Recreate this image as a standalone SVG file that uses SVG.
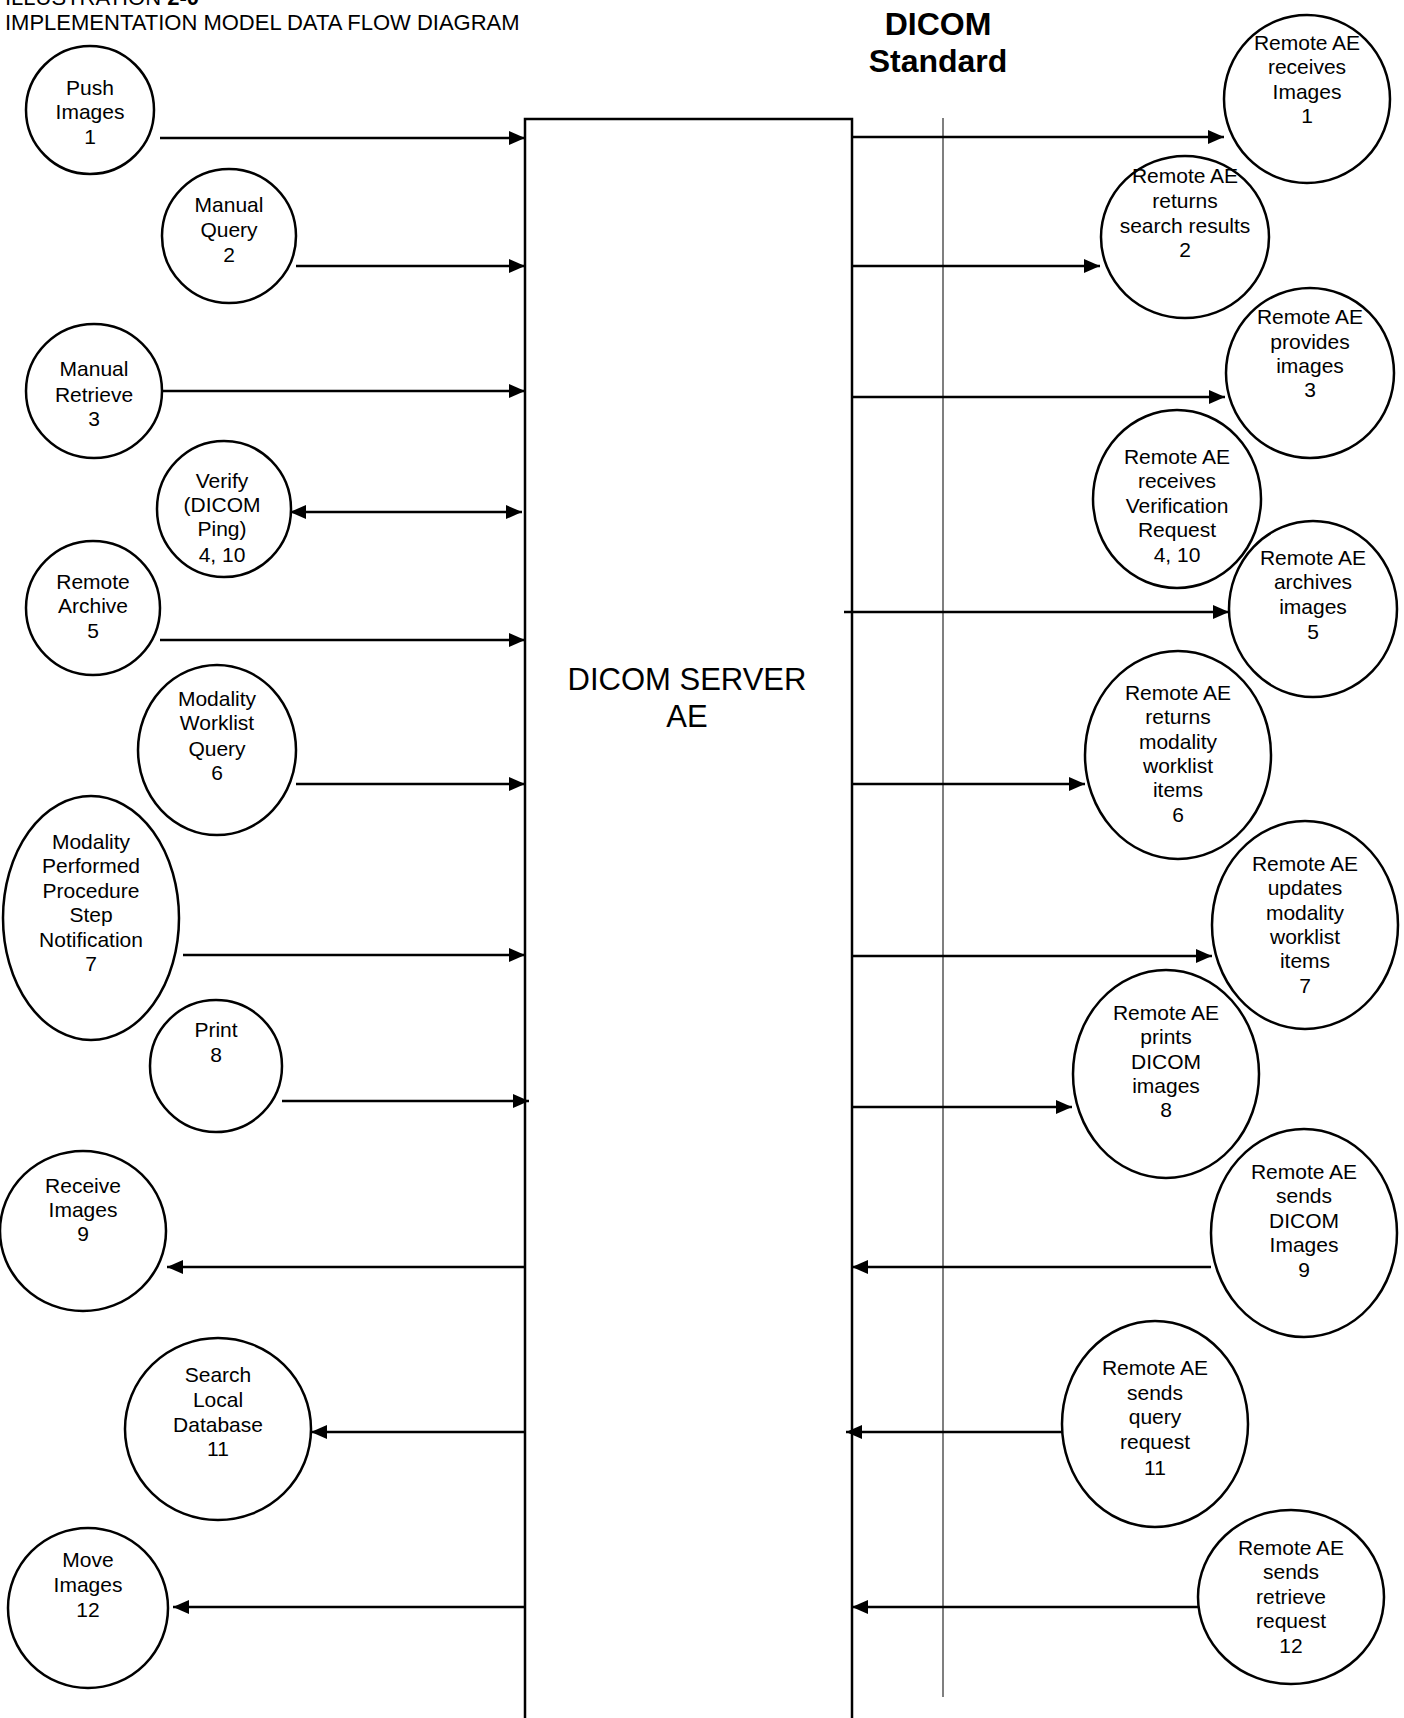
<svg xmlns="http://www.w3.org/2000/svg" width="1404" height="1718" viewBox="0 0 1404 1718">
<style>
text{font-family:"Liberation Sans",Arial,sans-serif;fill:#000}
.lbl{font-size:21px;text-anchor:middle}
.nd{fill:#fff;stroke:#000;stroke-width:2.5}
.cn{stroke:#000;stroke-width:2.5;fill:none}
</style>
<defs>
<marker id="ah" viewBox="0 0 16 14" refX="16" refY="7" markerWidth="16" markerHeight="14" markerUnits="userSpaceOnUse" orient="auto-start-reverse"><path d="M0,0 L16,7 L0,14 z" fill="#000"/></marker>
</defs>
<rect width="1404" height="1718" fill="#fff"/>
<g id="title">
<text x="5" y="5" font-size="22">ILLUSTRATION <tspan font-weight="bold">2-0</tspan></text>
<text x="5" y="30" font-size="22">IMPLEMENTATION MODEL DATA FLOW DIAGRAM</text>
<text x="938" y="35" font-size="32" font-weight="bold" text-anchor="middle">DICOM</text>
<text x="938" y="72" font-size="32" font-weight="bold" text-anchor="middle">Standard</text>
</g>
<line x1="943" y1="118" x2="943" y2="1697" stroke="#555" stroke-width="1.5"/>
<g id="server">
<rect x="525" y="119" width="327" height="1620" fill="#fff" stroke="#000" stroke-width="2.5"/>
<text x="687" y="690" font-size="31" text-anchor="middle">DICOM SERVER</text>
<text x="687" y="727" font-size="31" text-anchor="middle">AE</text>
</g>
<g id="connectors">
<line class="cn" x1="160" y1="138" x2="525" y2="138" marker-end="url(#ah)"/>
<line class="cn" x1="296" y1="266" x2="525" y2="266" marker-end="url(#ah)"/>
<line class="cn" x1="162" y1="391" x2="525" y2="391" marker-end="url(#ah)"/>
<line class="cn" x1="290" y1="512" x2="522" y2="512" marker-start="url(#ah)" marker-end="url(#ah)"/>
<line class="cn" x1="160" y1="640" x2="525" y2="640" marker-end="url(#ah)"/>
<line class="cn" x1="296" y1="784" x2="525" y2="784" marker-end="url(#ah)"/>
<line class="cn" x1="183" y1="955" x2="525" y2="955" marker-end="url(#ah)"/>
<line class="cn" x1="282" y1="1101" x2="529" y2="1101" marker-end="url(#ah)"/>
<line class="cn" x1="525" y1="1267" x2="167" y2="1267" marker-end="url(#ah)"/>
<line class="cn" x1="525" y1="1432" x2="311" y2="1432" marker-end="url(#ah)"/>
<line class="cn" x1="525" y1="1607" x2="173" y2="1607" marker-end="url(#ah)"/>
<line class="cn" x1="852" y1="137" x2="1224" y2="137" marker-end="url(#ah)"/>
<line class="cn" x1="852" y1="266" x2="1100" y2="266" marker-end="url(#ah)"/>
<line class="cn" x1="852" y1="397" x2="1225" y2="397" marker-end="url(#ah)"/>
<line class="cn" x1="844" y1="612" x2="1229" y2="612" marker-end="url(#ah)"/>
<line class="cn" x1="852" y1="784" x2="1085" y2="784" marker-end="url(#ah)"/>
<line class="cn" x1="852" y1="956" x2="1212" y2="956" marker-end="url(#ah)"/>
<line class="cn" x1="852" y1="1107" x2="1072" y2="1107" marker-end="url(#ah)"/>
<line class="cn" x1="1211" y1="1267" x2="852" y2="1267" marker-end="url(#ah)"/>
<line class="cn" x1="1062" y1="1432" x2="846" y2="1432" marker-end="url(#ah)"/>
<line class="cn" x1="1198" y1="1607" x2="852" y2="1607" marker-end="url(#ah)"/>
</g>
<g id="push-images"><ellipse class="nd" cx="90" cy="110" rx="64" ry="64"/><text class="lbl"><tspan x="90" y="95">Push</tspan><tspan x="90" y="119">Images</tspan><tspan x="90" y="144">1</tspan></text></g>
<g id="manual-query"><ellipse class="nd" cx="229" cy="236" rx="67" ry="67"/><text class="lbl"><tspan x="229" y="212">Manual</tspan><tspan x="229" y="237">Query</tspan><tspan x="229" y="262">2</tspan></text></g>
<g id="manual-retrieve"><ellipse class="nd" cx="94" cy="391" rx="68" ry="67"/><text class="lbl"><tspan x="94" y="376">Manual</tspan><tspan x="94" y="402">Retrieve</tspan><tspan x="94" y="426">3</tspan></text></g>
<g id="verify"><ellipse class="nd" cx="224" cy="509" rx="67" ry="68"/><text class="lbl"><tspan x="222" y="488">Verify</tspan><tspan x="222" y="512">(DICOM</tspan><tspan x="222" y="536">Ping)</tspan><tspan x="222" y="562">4, 10</tspan></text></g>
<g id="remote-archive"><ellipse class="nd" cx="93" cy="608" rx="67" ry="67"/><text class="lbl"><tspan x="93" y="589">Remote</tspan><tspan x="93" y="613">Archive</tspan><tspan x="93" y="638">5</tspan></text></g>
<g id="mwl-query"><ellipse class="nd" cx="217" cy="750" rx="79" ry="85"/><text class="lbl"><tspan x="217" y="706">Modality</tspan><tspan x="217" y="730">Worklist</tspan><tspan x="217" y="756">Query</tspan><tspan x="217" y="780">6</tspan></text></g>
<g id="mpps"><ellipse class="nd" cx="91" cy="918" rx="88" ry="122"/><text class="lbl"><tspan x="91" y="849">Modality</tspan><tspan x="91" y="873">Performed</tspan><tspan x="91" y="898">Procedure</tspan><tspan x="91" y="922">Step</tspan><tspan x="91" y="947">Notification</tspan><tspan x="91" y="971">7</tspan></text></g>
<g id="print"><ellipse class="nd" cx="216" cy="1066" rx="66" ry="66"/><text class="lbl"><tspan x="216" y="1037">Print</tspan><tspan x="216" y="1062">8</tspan></text></g>
<g id="receive-images"><ellipse class="nd" cx="83" cy="1231" rx="83" ry="80"/><text class="lbl"><tspan x="83" y="1193">Receive</tspan><tspan x="83" y="1217">Images</tspan><tspan x="83" y="1241">9</tspan></text></g>
<g id="search-local"><ellipse class="nd" cx="218" cy="1429" rx="93" ry="91"/><text class="lbl"><tspan x="218" y="1382">Search</tspan><tspan x="218" y="1407">Local</tspan><tspan x="218" y="1432">Database</tspan><tspan x="218" y="1456">11</tspan></text></g>
<g id="move-images"><ellipse class="nd" cx="88" cy="1608" rx="80" ry="80"/><text class="lbl"><tspan x="88" y="1567">Move</tspan><tspan x="88" y="1592">Images</tspan><tspan x="88" y="1617">12</tspan></text></g>
<g id="r-receives-images"><ellipse class="nd" cx="1307" cy="99" rx="83" ry="84"/><text class="lbl"><tspan x="1307" y="50">Remote AE</tspan><tspan x="1307" y="74">receives</tspan><tspan x="1307" y="99">Images</tspan><tspan x="1307" y="123">1</tspan></text></g>
<g id="r-returns-search"><ellipse class="nd" cx="1185" cy="237" rx="84" ry="81"/><text class="lbl"><tspan x="1185" y="183">Remote AE</tspan><tspan x="1185" y="208">returns</tspan><tspan x="1185" y="233">search results</tspan><tspan x="1185" y="257">2</tspan></text></g>
<g id="r-provides-images"><ellipse class="nd" cx="1310" cy="373" rx="84" ry="85"/><text class="lbl"><tspan x="1310" y="324">Remote AE</tspan><tspan x="1310" y="349">provides</tspan><tspan x="1310" y="373">images</tspan><tspan x="1310" y="397">3</tspan></text></g>
<g id="r-receives-verification"><ellipse class="nd" cx="1177" cy="499" rx="84" ry="89"/><text class="lbl"><tspan x="1177" y="464">Remote AE</tspan><tspan x="1177" y="488">receives</tspan><tspan x="1177" y="513">Verification</tspan><tspan x="1177" y="537">Request</tspan><tspan x="1177" y="562">4, 10</tspan></text></g>
<g id="r-archives-images"><ellipse class="nd" cx="1313" cy="609" rx="84" ry="88"/><text class="lbl"><tspan x="1313" y="565">Remote AE</tspan><tspan x="1313" y="589">archives</tspan><tspan x="1313" y="614">images</tspan><tspan x="1313" y="639">5</tspan></text></g>
<g id="r-returns-mwl"><ellipse class="nd" cx="1178" cy="755" rx="93" ry="104"/><text class="lbl"><tspan x="1178" y="700">Remote AE</tspan><tspan x="1178" y="724">returns</tspan><tspan x="1178" y="749">modality</tspan><tspan x="1178" y="773">worklist</tspan><tspan x="1178" y="797">items</tspan><tspan x="1178" y="822">6</tspan></text></g>
<g id="r-updates-mwl"><ellipse class="nd" cx="1305" cy="925" rx="93" ry="104"/><text class="lbl"><tspan x="1305" y="871">Remote AE</tspan><tspan x="1305" y="895">updates</tspan><tspan x="1305" y="920">modality</tspan><tspan x="1305" y="944">worklist</tspan><tspan x="1305" y="968">items</tspan><tspan x="1305" y="993">7</tspan></text></g>
<g id="r-prints"><ellipse class="nd" cx="1166" cy="1074" rx="93" ry="104"/><text class="lbl"><tspan x="1166" y="1020">Remote AE</tspan><tspan x="1166" y="1044">prints</tspan><tspan x="1166" y="1069">DICOM</tspan><tspan x="1166" y="1093">images</tspan><tspan x="1166" y="1117">8</tspan></text></g>
<g id="r-sends-images"><ellipse class="nd" cx="1304" cy="1233" rx="93" ry="104"/><text class="lbl"><tspan x="1304" y="1179">Remote AE</tspan><tspan x="1304" y="1203">sends</tspan><tspan x="1304" y="1228">DICOM</tspan><tspan x="1304" y="1252">Images</tspan><tspan x="1304" y="1277">9</tspan></text></g>
<g id="r-sends-query"><ellipse class="nd" cx="1155" cy="1424" rx="93" ry="103"/><text class="lbl"><tspan x="1155" y="1375">Remote AE</tspan><tspan x="1155" y="1400">sends</tspan><tspan x="1155" y="1424">query</tspan><tspan x="1155" y="1449">request</tspan><tspan x="1155" y="1475">11</tspan></text></g>
<g id="r-sends-retrieve"><ellipse class="nd" cx="1291" cy="1597" rx="93" ry="87"/><text class="lbl"><tspan x="1291" y="1555">Remote AE</tspan><tspan x="1291" y="1579">sends</tspan><tspan x="1291" y="1604">retrieve</tspan><tspan x="1291" y="1628">request</tspan><tspan x="1291" y="1653">12</tspan></text></g>
</svg>
